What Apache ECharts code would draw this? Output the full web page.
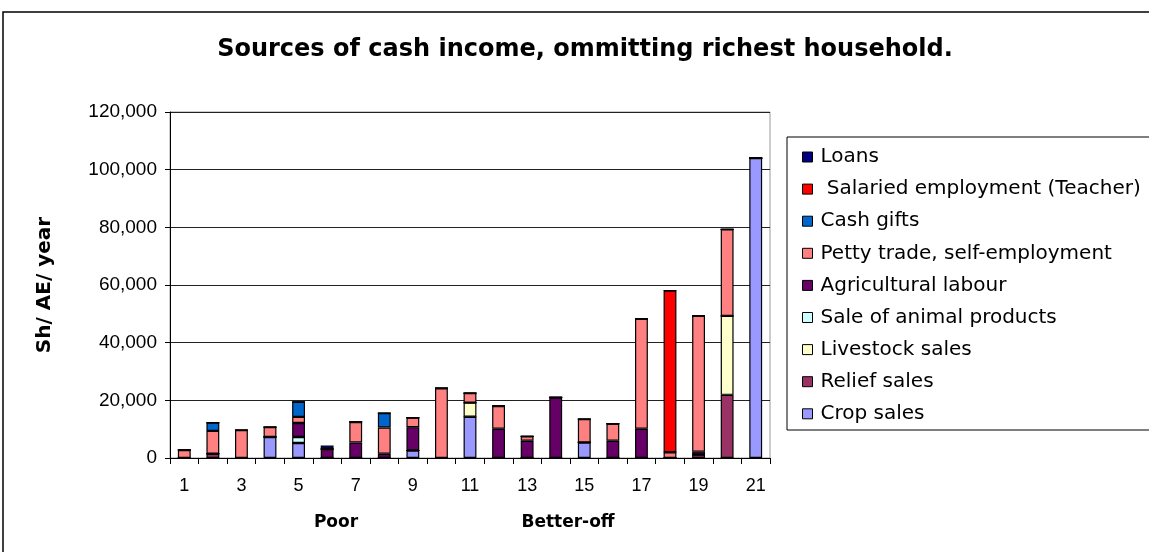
<!DOCTYPE html>
<html><head><meta charset="utf-8">
<script src="https://cdn.jsdelivr.net/npm/echarts@6/dist/echarts.min.js"></script>
<style>html,body{margin:0;padding:0;background:#fff}#c{width:1149px;height:552px}</style>
</head><body><div id="c"></div>
<script>
const categories = ['1','2','3','4','5','6','7','8','9','10','11','12','13','14','15','16','17','18','19','20','21'];
const cropSales      = [0,0,0,7300,5200,0,0,0,2600,0,14300,0,0,0,5400,0,0,0,0,0,104000];
const reliefSales    = [0,1500,0,0,0,0,0,0,0,0,0,0,0,0,0,0,0,0,1200,21900,0];
const livestockSales = [0,0,0,0,0,0,0,0,0,0,4900,0,0,0,0,0,0,0,0,27400,0];
const animalProducts = [0,0,0,0,2100,0,0,0,0,0,0,0,0,0,0,0,0,0,0,0,0];
const agLabour       = [0,0,0,0,4850,3100,5400,1500,8100,0,0,10150,6000,21000,0,6000,10150,0,1000,0,0];
const pettyTrade     = [2800,7900,9700,3400,2100,0,7100,9100,3300,24200,3300,7900,1500,0,8100,5900,38100,2000,47100,30000,0];
const cashGifts      = [0,2900,0,0,5200,0,0,5000,0,0,0,0,0,0,0,0,0,0,0,0,0];
const salaried       = [0,0,0,0,0,0,0,0,0,0,0,0,0,0,0,0,0,56100,0,0,0];
const loans          = [0,0,0,0,0,1200,0,0,0,0,0,0,0,0,0,0,0,0,0,0,0];
const yTicks = [0,20000,40000,60000,80000,100000,120000];

const seriesDefs = [
  ['Crop sales', cropSales, '#9999FF'],
  ['Relief sales', reliefSales, '#993366'],
  ['Livestock sales', livestockSales, '#FFFFCC'],
  ['Sale of animal products', animalProducts, '#CCFFFF'],
  ['Agricultural labour', agLabour, '#660066'],
  ['Petty trade, self-employment', pettyTrade, '#FF8080'],
  ['Cash gifts', cashGifts, '#0066CC'],
  [' Salaried employment (Teacher)', salaried, '#FF0000'],
  ['Loans', loans, '#000080']
];
const FONT = '"Liberation Sans", Arial, sans-serif';
const WIDE = '"DejaVu Sans", sans-serif';
const chart = echarts.init(document.getElementById('c'), null, {renderer:'canvas'});
chart.setOption({
  animation:false,
  backgroundColor:'#fff',
  title:{text:'Sources of cash income, ommitting richest household.', left:580, textAlign:'center', top:33,
    textStyle:{fontFamily:WIDE,fontWeight:'bold',fontSize:24,color:'#000'}},
  grid:{left:170,right:379,top:112,bottom:94,show:true,borderColor:'#999',borderWidth:1},
  legend:{orient:'vertical',left:797,top:142,itemWidth:10,itemHeight:10,itemGap:12.1,icon:'rect',
    data:seriesDefs.map(d=>d[0]).reverse(),
    itemStyle:{borderColor:'#000',borderWidth:1},
    textStyle:{fontFamily:WIDE,fontSize:20,color:'#000',padding:[0,0,0,3]}},
  xAxis:{type:'category',data:categories,
    axisLine:{lineStyle:{color:'#000',width:1}},
    axisTick:{show:true,interval:0,length:6,lineStyle:{color:'#000'}},
    axisLabel:{interval:1,fontFamily:FONT,fontSize:18,color:'#000',margin:19}},
  yAxis:{type:'value',min:0,max:120000,interval:20000,
    axisLine:{show:true,lineStyle:{color:'#000'}},
    axisTick:{show:true,length:5,lineStyle:{color:'#000'}},
    splitLine:{lineStyle:{color:'#222',width:1}},
    axisLabel:{fontFamily:FONT,fontSize:19,color:'#000',margin:13,
      formatter:v=>v.toLocaleString('en-US')},
    name:'Sh/ AE/ year',nameLocation:'middle',nameGap:115,nameRotate:90,
    nameTextStyle:{fontFamily:WIDE,fontWeight:'bold',fontSize:20,color:'#000'}},
  graphic:[
    {type:'rect',shape:{x:3,y:12,width:1160,height:560},style:{fill:null,stroke:'#000',lineWidth:1.5},silent:true},
    {type:'rect',shape:{x:787,y:137,width:380,height:293},style:{fill:null,stroke:'#000',lineWidth:1},silent:true},
    {type:'text',x:336,y:523,style:{text:'Poor',font:'bold 17px '+WIDE,fill:'#000',textAlign:'center',textVerticalAlign:'middle'}},
    {type:'text',x:568,y:523,style:{text:'Better-off',font:'bold 17px '+WIDE,fill:'#000',textAlign:'center',textVerticalAlign:'middle'}}
  ],
  series:seriesDefs.map(d=>({name:d[0],type:'bar',stack:'s',data:d[1],barWidth:'45%',
    itemStyle:{color:d[2],borderColor:'#000',borderWidth:1.2}}))
});
</script></body></html>
